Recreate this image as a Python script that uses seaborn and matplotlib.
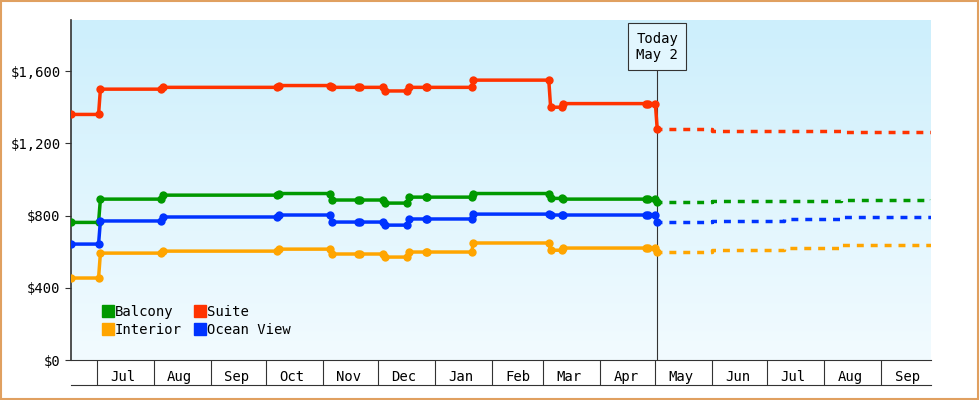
import numpy as np
import pandas as pd
import matplotlib
matplotlib.use("Agg")
import matplotlib.pyplot as plt
import matplotlib.dates as mdates
import seaborn as sns

# price change dates (history) and the segment values that start there
change_dates = ["2022-06-17", "2022-07-02", "2022-08-05", "2022-10-07", "2022-11-05",
                "2022-11-20", "2022-12-04", "2022-12-17", "2022-12-27", "2023-01-21",
                "2023-03-04", "2023-03-11", "2023-04-26", "2023-05-01"]
suite = [1360, 1500, 1510, 1520, 1510, 1510, 1490, 1510, 1510, 1550, 1400, 1420, 1420, 1280]
balcony = [762, 891, 913, 922, 886, 886, 869, 902, 902, 922, 895, 891, 891, 875]
ocean = [642, 770, 792, 803, 764, 764, 747, 781, 781, 808, 803, 803, 803, 764]
interior = [454, 592, 603, 614, 587, 587, 570, 598, 598, 648, 608, 620, 620, 598]

# forecast after today
fc_dates = ["2023-05-01", "2023-06-01", "2023-07-10", "2023-08-10", "2023-09-28"]
suite_fc = [1280, 1270, 1270, 1265, 1265]
balcony_fc = [875, 878, 882, 887, 890]
ocean_fc = [764, 772, 780, 790, 797]
interior_fc = [598, 610, 622, 635, 645]

today = "2023-05-02"
x_start, x_end = "2022-06-17", "2023-09-28"
month_starts = pd.date_range("2022-07-01", "2023-09-01", freq="MS")

series = [("Balcony", balcony, balcony_fc, "#009900"),
          ("Interior", interior, interior_fc, "#ffa500"),
          ("Suite", suite, suite_fc, "#ff3300"),
          ("Ocean View", ocean, ocean_fc, "#0033ff")]


def step_points(dates, vals):
    d = pd.to_datetime(dates)
    xs, ys = [], []
    for i, v in enumerate(vals):
        s = d[i] + (pd.Timedelta(days=1) if i > 0 else pd.Timedelta(0))
        xs.append(s)
        ys.append(v)
        if i + 1 < len(vals):
            xs.append(d[i + 1])
            ys.append(v)
    return pd.DataFrame({"date": xs, "price": ys})


plt.rcParams["font.family"] = "DejaVu Sans Mono"
fig = plt.figure(figsize=(9.8, 4.0), dpi=100)
fig.patch.set_facecolor("white")
ax = fig.add_axes([71 / 980, 40 / 400, 860 / 980, 340 / 400])

x0, x1 = mdates.date2num(pd.Timestamp(x_start)), mdates.date2num(pd.Timestamp(x_end))
ymax = 1883
grad = np.linspace(0, 1, 256).reshape(-1, 1)
cmap = matplotlib.colors.LinearSegmentedColormap.from_list("bg", ["#f2fbff", "#cdeffc"])
ax.imshow(grad, aspect="auto", cmap=cmap, origin="lower", extent=[x0, x1, 0, ymax], zorder=0)

for name, hist, fc, col in series:
    df = step_points(change_dates, hist)
    sns.lineplot(data=df, x="date", y="price", ax=ax, color=col, lw=2.5, marker="o",
                 markersize=6, markeredgewidth=0, label=name, zorder=3)
    fdf = pd.DataFrame({"date": pd.to_datetime(fc_dates), "price": fc})
    sns.lineplot(data=fdf, x="date", y="price", ax=ax, color=col, lw=2.5,
                 drawstyle="steps-post", linestyle=(0, (2, 2)), zorder=3, legend=False)

t = mdates.date2num(pd.Timestamp(today))
ax.plot([t, t], [0, 1640], color="#333333", lw=0.8, zorder=2)
ax.text(t, 1735, "Today\nMay 2", ha="center", va="center", fontsize=10,
        bbox=dict(boxstyle="square,pad=0.6", fc="#e2f6fe", ec="#333333", lw=0.8))

ax.set_xlim(x0, x1)
ax.set_ylim(0, ymax)
ax.set_yticks(range(0, 1601, 400))
ax.set_yticklabels([f"${v:,}" for v in range(0, 1601, 400)], fontsize=10)
ax.set_xticks(mdates.date2num(month_starts), minor=True)
mids = [m + pd.Timedelta(days=14) for m in month_starts]
ax.set_xticks(mdates.date2num(mids))
ax.set_xticklabels([m.strftime("%b") for m in month_starts], fontsize=10)
ax.tick_params(axis="x", which="major", length=0, pad=7)
ax.tick_params(axis="x", which="minor", length=18, width=0.8, color="#333333")
ax.tick_params(axis="y", length=4, color="#333333")
ax.plot([0, 1], [-25 / 340, -25 / 340], transform=ax.transAxes, color="#333333",
        lw=0.8, clip_on=False)
for s in ["top", "right"]:
    ax.spines[s].set_visible(False)
ax.spines["left"].set_color("#333333")
ax.spines["left"].set_linewidth(1.2)
ax.spines["bottom"].set_color("#333333")
ax.spines["bottom"].set_linewidth(0.8)
ax.set_xlabel("")
ax.set_ylabel("")

handles, labels = ax.get_legend_handles_labels()
sq = [plt.Line2D([], [], marker="s", ls="", color=h.get_color(), markersize=9) for h in handles]
ax.legend(sq, labels, ncol=2, loc="lower left", frameon=False, fontsize=10,
          handletextpad=0.0, handlelength=1.0, columnspacing=0.8, labelspacing=0.3,
          bbox_to_anchor=(0.02, 0.03))

fig.add_artist(plt.Rectangle((0.001, 0.002), 0.997, 0.995, transform=fig.transFigure,
                             fill=False, ec="#e0a060", lw=1.5))
fig.savefig("out.png", dpi=100)
